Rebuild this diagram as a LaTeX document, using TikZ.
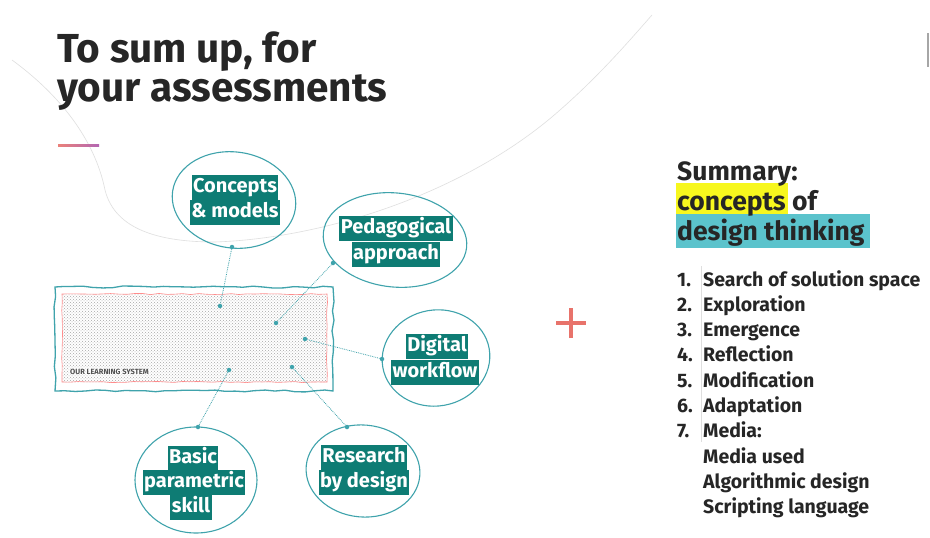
\documentclass[tikz,border=0pt]{standalone}
\usepackage{fontspec}
\setmainfont{Fira Sans}
\usetikzlibrary{patterns,decorations.pathmorphing}
\definecolor{tealD}{HTML}{0E7C74}
\definecolor{tealL}{HTML}{3FA3AC}
\definecolor{hiY}{HTML}{F7F71E}
\definecolor{hiC}{HTML}{5BC3CC}
\definecolor{ink}{HTML}{262626}
\definecolor{plusR}{HTML}{E8736B}
\tikzset{
  lbl/.style={fill=tealD,text=white,font=\bfseries\fontsize{20}{20}\selectfont,inner xsep=1.5pt,inner ysep=0pt,text height=15.5pt,text depth=5pt,minimum height=25pt},
  bubble/.style={draw=tealL,line width=1.1pt},
  conn/.style={draw=tealL,line width=0.8pt,densely dotted},
  enddot/.style={circle,fill=tealL,inner sep=0pt,minimum size=4.5pt},
  listtxt/.style={anchor=base west,inner sep=0pt,text=ink,font=\bfseries\fontsize{19.5}{19.5}\selectfont},
  sumtxt/.style={anchor=base west,inner sep=0pt,text=ink,font=\bfseries\fontsize{26.5}{26.5}\selectfont},
  titletxt/.style={anchor=base west,inner sep=0pt,text=ink,font=\bfseries\fontsize{40.5}{40.5}\selectfont},
}
\begin{document}
\begin{tikzpicture}[x=1pt,y=-1pt]
\useasboundingbox (0,0) rectangle (930,538);
\fill[white] (0,0) rectangle (930,538);
% background faint curve
\draw[gray!25,line width=0.6pt] (12,60) .. controls (60,95) and (95,140) .. (105,190)
  .. controls (115,230) and (160,242) .. (215,242)
  .. controls (330,238) and (470,190) .. (560,110)
  .. controls (600,75) and (630,40) .. (652,15);
% top-right mark
\draw[gray!70,line width=1.2pt] (928,33) -- (928,67);
% title
\node[titletxt] (t1) at (57,62) {To sum up, for};
\node[titletxt] (t2) at (57,101) {your assessments};
\shade[left color=plusR!90,right color=violet!60] (58,144) rectangle (99,146.5);
% learning system
\pgfmathsetseed{7}
\node[draw=tealL,line width=1.3pt,minimum width=278pt,minimum height=104pt,inner sep=0pt,decorate,decoration={random steps,segment length=10pt,amplitude=1pt}] (ls) at (194,339) {};
\fill[pattern=crosshatch dots,pattern color=gray!70] (62,294) rectangle (327,382);
\draw[red!45,line width=0.6pt,decorate,decoration={random steps,segment length=8pt,amplitude=0.6pt}] (62,294) rectangle (327,382);
\node[anchor=base west,inner sep=1pt,fill=white,fill opacity=0.6,text opacity=1,text=ink!80,font=\bfseries\fontsize{7.5}{7.5}\selectfont] (lst) at (69,374) {OUR LEARNING SYSTEM};
% bubbles
\draw[bubble,rotate around={-8:(234,200)}] (234,200) ellipse [x radius=62,y radius=48];
\node[lbl] (c1) at (235,187.5) {Concepts};
\node[lbl] (c2) at (235,212.5) {\& models};
\draw[bubble,rotate around={-6:(395,240)}] (395,240) ellipse [x radius=72,y radius=47];
\node[lbl] (p1) at (396,228) {Pedagogical};
\node[lbl] (p2) at (396,254) {approach};
\draw[bubble,rotate around={10:(436,358)}] (436,358) ellipse [x radius=54,y radius=48];
\node[lbl] (d1) at (437,346) {Digital};
\node[lbl] (d2) at (435,372) {workflow};
\draw[bubble] (196,480) ellipse [x radius=61,y radius=53];
\node[lbl] (b1) at (193,458.5) {Basic};
\node[lbl] (b2) at (194,482) {parametric};
\node[lbl] (b3) at (191,507) {skill};
\draw[bubble,rotate around={-5:(363,471)}] (363,471) ellipse [x radius=57,y radius=46];
\node[lbl] (r1) at (364,457.5) {Research};
\node[lbl] (r2) at (364,482.5) {by design};
% connectors
\node[enddot] (ca) at (232,247) {};
\node[enddot] (cb) at (220,306) {};
\node[enddot] (pa) at (333,263) {};
\node[enddot] (pb) at (276,323) {};
\node[enddot] (da) at (382,359) {};
\node[enddot] (db) at (305,339) {};
\node[enddot] (ba) at (198,427) {};
\node[enddot] (bb) at (229,370) {};
\node[enddot] (ra) at (347,427) {};
\node[enddot] (rb) at (292,367) {};
\draw[conn] (ca) -- (cb);
\draw[conn] (pa) -- (pb);
\draw[conn] (da) -- (db);
\draw[conn] (ba) -- (bb);
\draw[conn] (ra) -- (rb);
% plus
\coordinate (pc) at (571,323);
\draw[plusR,line width=3.5pt] ([xshift=-15pt]pc) -- ([xshift=15pt]pc);
\draw[plusR,line width=3.5pt] ([yshift=-15pt]pc) -- ([yshift=15pt]pc);
% summary
\fill[hiY] (676,183) rectangle (788,214);
\fill[hiC] (676,214) rectangle (870,248);
\node[sumtxt] (s1) at (677,180) {Summary:};
\node[sumtxt] (s2) at (677,210) {concepts of};
\node[sumtxt] (s3) at (677,240) {design thinking};
% list
\draw[gray!25,line width=0.5pt] (701,266) -- (701,442);
\foreach \n/\t [count=\i from 0] in {1./Search of solution space,2./Exploration,3./Emergence,4./Reflection,5./Modification,6./Adaptation,7./Media:} {
  \node[listtxt] (n\i) at (677,286+25.3*\i) {\n};
  \node[listtxt] (l\i) at (703,286+25.3*\i) {\t};
}
\node[listtxt] (m1) at (703,463) {Media used};
\node[listtxt] (m2) at (703,488) {Algorithmic design};
\node[listtxt] (m3) at (703,513) {Scripting language};
\end{tikzpicture}
\end{document}
